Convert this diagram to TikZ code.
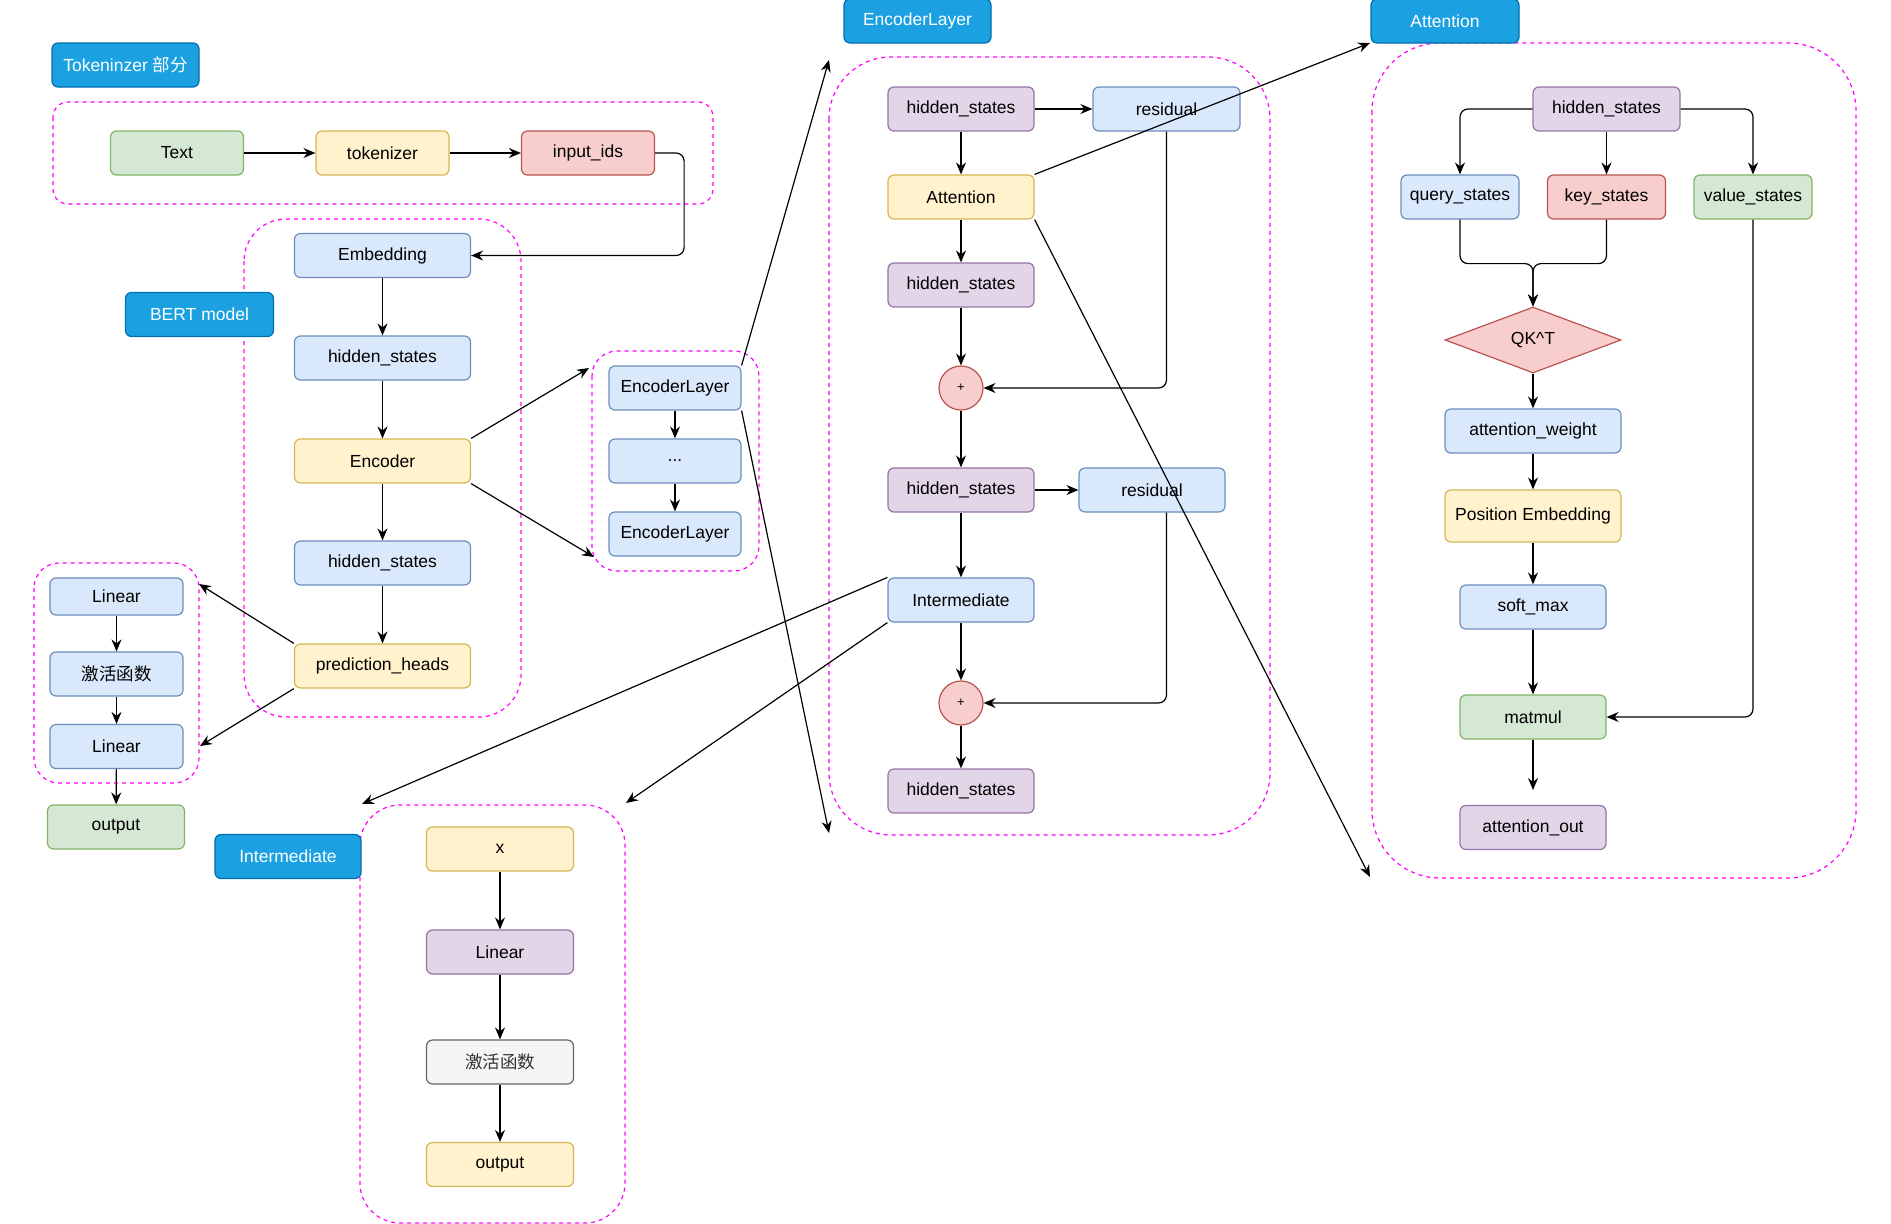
\documentclass[tikz,border=0pt]{standalone}
\usepackage{fontspec}
\setmainfont{Liberation Sans}
\newfontfamily\cjk{Noto Sans CJK SC}
\usetikzlibrary{shapes.geometric,arrows.meta,calc}
\definecolor{bluef}{HTML}{DAE8FC}\definecolor{blued}{HTML}{6C8EBF}
\definecolor{yelf}{HTML}{FFF2CC}\definecolor{yeld}{HTML}{D6B656}
\definecolor{redf}{HTML}{F8CECC}\definecolor{redd}{HTML}{B85450}
\definecolor{grnf}{HTML}{D5E8D4}\definecolor{grnd}{HTML}{82B366}
\definecolor{purf}{HTML}{E1D5E7}\definecolor{purd}{HTML}{9673A6}
\definecolor{gryf}{HTML}{F5F5F5}\definecolor{gryd}{HTML}{666666}\definecolor{gryt}{HTML}{333333}
\definecolor{lblf}{HTML}{1BA1E2}\definecolor{lbld}{HTML}{006EAF}
\definecolor{grpc}{HTML}{FF00FF}
\begin{document}
\begin{tikzpicture}[x=1pt,y=-1pt,
  every node/.style={font=\fontsize{17.5}{20}\selectfont},
  box/.style={draw, rounded corners=6pt, line width=1.2pt, minimum height=44pt, inner sep=0pt, text=black},
  bl/.style={box, fill=bluef, draw=blued},
  ye/.style={box, fill=yelf, draw=yeld},
  rd/.style={box, fill=redf, draw=redd},
  gr/.style={box, fill=grnf, draw=grnd},
  pu/.style={box, fill=purf, draw=purd},
  gy/.style={box, fill=gryf, draw=gryd, text=gryt},
  lbl/.style={box, fill=lblf, draw=lbld, text=white},
  plus/.style={circle, draw=redd, fill=redf, line width=1.2pt, minimum size=44pt, inner sep=0pt, font=\fontsize{13}{15}\selectfont},
  grp/.style={draw=grpc, line width=1.2pt, dash pattern=on 4pt off 4pt},
  arr/.style={-{Stealth[length=12pt,width=10pt,inset=4pt]}, line width=1.2pt, black},
  ln/.style={line width=1.2pt, black}]
\useasboundingbox (0,0) rectangle (1891,1224);

% group frames
\draw[grp, rounded corners=15pt] (53,102) rectangle (713,204);
\draw[grp, rounded corners=42pt] (244,219) rectangle (521,717);
\draw[grp, rounded corners=25pt] (592,351) rectangle (759,571);
\draw[grp, rounded corners=25pt] (34,563) rectangle (199,783);
\draw[grp, rounded corners=40pt] (360,805) rectangle (625,1223);
\draw[grp, rounded corners=62pt] (829,57) rectangle (1270,835);
\draw[grp, rounded corners=68pt] (1372,43) rectangle (1856,878);

% labels
\node[lbl, minimum width=147pt] (tokLbl) at (125.5,65) {Tokeninzer {\cjk 部分}};
\node[lbl, minimum width=148pt] (bertLbl) at (199.5,314.5) {BERT model};
\node[lbl, minimum width=147pt] (encLbl) at (917.5,21) {EncoderLayer};
\node[lbl, minimum width=148pt] (attLbl) at (1445,21) {Attention};
\node[lbl, minimum width=146pt] (intLbl) at (288,856.5) {Intermediate};

% tokenizer
\node[gr, minimum width=133pt] (txt) at (177,153) {Text};
\node[ye, minimum width=133pt] (tkz) at (382.5,153) {tokenizer};
\node[rd, minimum width=133pt] (inp) at (588,153) {input\_ids};

% BERT
\node[bl, minimum width=176pt] (emb) at (382.5,255.5) {Embedding};
\node[bl, minimum width=176pt] (bhs1) at (382.5,358) {hidden\_states};
\node[ye, minimum width=176pt] (enc) at (382.5,461) {Encoder};
\node[bl, minimum width=176pt] (bhs2) at (382.5,563) {hidden\_states};
\node[ye, minimum width=176pt] (ph) at (382.5,666) {prediction\_heads};

% encoder stack
\node[bl, minimum width=132pt] (el1) at (675,388) {EncoderLayer};
\node[bl, minimum width=132pt] (eld) at (675,461) {...};
\node[bl, minimum width=132pt] (el2) at (675,534) {EncoderLayer};

% head
\node[bl, minimum width=133pt, minimum height=37pt] (lin1) at (116.5,596.5) {Linear};
\node[bl, minimum width=133pt] (act1) at (116.5,674) {\cjk 激活函数};
\node[bl, minimum width=133pt] (lin2) at (116.5,746.5) {Linear};
\node[gr, minimum width=137pt] (out1) at (116,827) {output};

% intermediate
\node[ye, minimum width=147pt] (ix) at (500,849) {x};
\node[pu, minimum width=147pt] (ilin) at (500,952) {Linear};
\node[gy, minimum width=147pt] (iact) at (500,1062) {\cjk 激活函数};
\node[ye, minimum width=147pt] (iout) at (500,1164.5) {output};

% encoder layer detail
\node[pu, minimum width=146pt] (hs1) at (961,109) {hidden\_states};
\node[bl, minimum width=147pt] (res1) at (1166.5,109) {residual};
\node[ye, minimum width=146pt] (att) at (961,197) {Attention};
\node[pu, minimum width=146pt] (hs2) at (961,285) {hidden\_states};
\node[plus] (p1) at (961,388) {+};
\node[pu, minimum width=146pt] (hs3) at (961,490) {hidden\_states};
\node[bl, minimum width=146pt] (res2) at (1152,490) {residual};
\node[bl, minimum width=146pt] (inter) at (961,600) {Intermediate};
\node[plus] (p2) at (961,703) {+};
\node[pu, minimum width=146pt] (hs4) at (961,791) {hidden\_states};

% attention detail
\node[pu, minimum width=147pt] (ahs) at (1606.5,109) {hidden\_states};
\node[bl, minimum width=118pt] (q) at (1460,197) {query\_states};
\node[rd, minimum width=118pt] (k) at (1606.5,197) {key\_states};
\node[gr, minimum width=118pt] (v) at (1753,197) {value\_states};
\node[diamond, draw=redd, fill=redf, line width=1.2pt, inner sep=0pt, aspect=2.67, minimum width=176pt, minimum height=66pt] (dia) at (1533,340) {QK\textasciicircum T};
\node[bl, minimum width=176pt] (aw) at (1533,431) {attention\_weight};
\node[ye, minimum width=176pt, minimum height=52pt] (pe) at (1533,516) {Position Embedding};
\node[bl, minimum width=146pt] (sm) at (1533,607) {soft\_max};
\node[gr, minimum width=146pt] (mm) at (1533,717) {matmul};
\node[pu, minimum width=146pt] (ao) at (1533,827.5) {attention\_out};

% free ends
\coordinate (encA) at (589,368);
\coordinate (encB) at (594,557);
\coordinate (phA) at (199,584);
\coordinate (phB) at (200,746);
\coordinate (elA) at (829,60);
\coordinate (elB) at (829,833);
\coordinate (atA) at (1370,43);
\coordinate (atB) at (1370,877);
\coordinate (inA) at (362,804);
\coordinate (inB) at (626,803);
\coordinate (mmEnd) at (1533,790);

% edges
\draw[arr] (txt) -- (tkz);
\draw[arr] (tkz) -- (inp);
\draw[arr, rounded corners=8pt] (inp.east) -- ++(29,0) |- (emb.east);
\draw[arr] (emb) -- (bhs1);
\draw[arr] (bhs1) -- (enc);
\draw[arr] (enc) -- (bhs2);
\draw[arr] (bhs2) -- (ph);
\draw[arr] (enc.north east) -- (encA);
\draw[arr] (enc.south east) -- (encB);
\draw[arr] (el1) -- (eld);
\draw[arr] (eld) -- (el2);
\draw[arr] (ph.north west) -- (phA);
\draw[arr] (ph.south west) -- (phB);
\draw[arr] (lin1) -- (act1);
\draw[arr] (act1) -- (lin2);
\draw[arr] (lin2) -- (out1);
\draw[arr] (ix) -- (ilin);
\draw[arr] (ilin) -- (iact);
\draw[arr] (iact) -- (iout);

\draw[arr] (hs1) -- (res1);
\draw[arr] (hs1) -- (att);
\draw[arr] (att) -- (hs2);
\draw[arr] (hs2) -- (p1);
\draw[arr, rounded corners=8pt] (res1.south) |- (p1.east);
\draw[arr] (p1) -- (hs3);
\draw[arr] (hs3) -- (res2);
\draw[arr] (hs3) -- (inter);
\draw[arr] (inter) -- (p2);
\draw[arr, rounded corners=8pt] (res2.south -| res1.south) |- (p2.east);
\draw[arr] (p2) -- (hs4);

\draw[arr, rounded corners=8pt] (ahs.west) -| (q.north);
\draw[arr] (ahs) -- (k);
\draw[arr, rounded corners=8pt] (ahs.east) -| (v.north);
\draw[arr, rounded corners=8pt] (q.south) -- ++(0,44) -| (dia.north);
\draw[arr, rounded corners=8pt] (k.south) -- ++(0,44) -| (dia.north);
\draw[arr] (dia) -- (aw);
\draw[arr] (aw) -- (pe);
\draw[arr] (pe) -- (sm);
\draw[arr] (sm) -- (mm);
\draw[arr, rounded corners=8pt] (v.south) |- (mm.east);
\draw[arr] (mm) -- (mmEnd);

\draw[arr] (el1.north east) -- (elA);
\draw[arr] (el1.south east) -- (elB);
\draw[arr] (att.north east) -- (atA);
\draw[arr] (att.south east) -- (atB);
\draw[arr] (inter.north west) -- (inA);
\draw[arr] (inter.south west) -- (inB);
\end{tikzpicture}
\end{document}
